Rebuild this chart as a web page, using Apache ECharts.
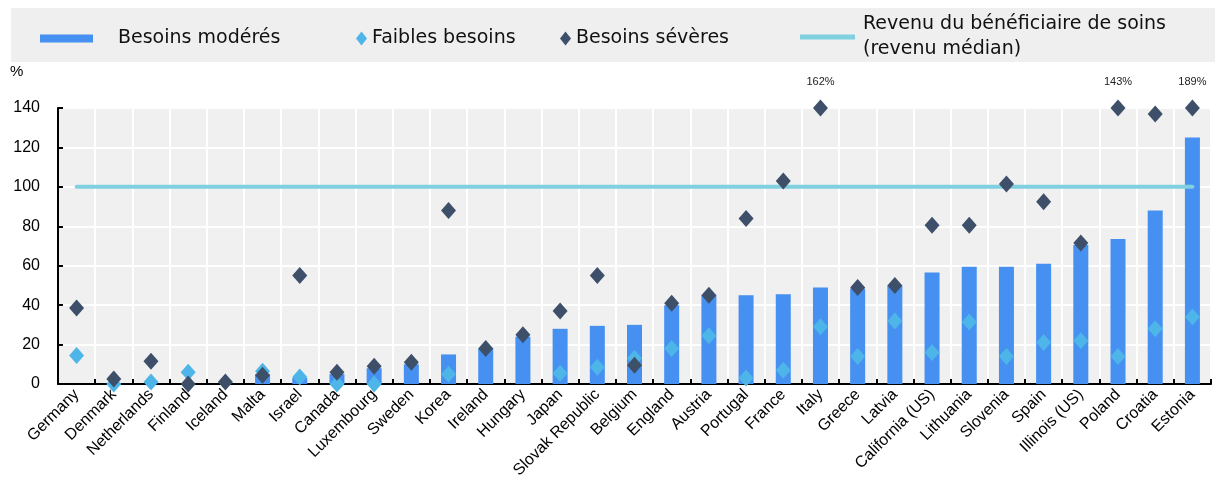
<!DOCTYPE html>
<html>
<head>
<meta charset="utf-8">
<script src="https://cdn.jsdelivr.net/npm/echarts@6/dist/echarts.min.js"></script>
<style>html,body{margin:0;padding:0;background:#fff}#c{width:1215px;height:486px}</style>
</head>
<body>
<div id="c"></div>
<script>
const categories = ['Germany','Denmark','Netherlands','Finland','Iceland','Malta','Israel','Canada','Luxembourg','Sweden','Korea','Ireland','Hungary','Japan','Slovak Republic','Belgium','England','Austria','Portugal','France','Italy','Greece','Latvia','California (US)','Lithuania','Slovenia','Spain','Illinois (US)','Poland','Croatia','Estonia'];
const moderate = [0,0,0,0,0,5,3,5,8,10,15,18,24,28,29.5,30,40,45,45,45.5,49,48.5,50,56.5,59.5,59.5,61,70.5,73.5,88,125];
const low = [14.5,0,1,6,null,6.5,3.5,0,0,null,5,null,null,5.5,8.5,13,18,24.5,3,7,29,14,32,16,31.5,14,21,22,14,28,34];
const severe = [38.5,2.5,11.5,0,1,4.5,55,6,9,11,88,18,25,37,55,9.5,41,45,84,103,140,49,50,80.5,80.5,101.5,92.5,71.5,140,137,140];
const overflowLabels = {20:'162%', 28:'143%', 30:'189%'};
const median = categories.map(() => 100);
const yTicks = {min:0, max:140, interval:20};

const chart = echarts.init(document.getElementById('c'));
const legendFont = {fontFamily:'DejaVu Sans', fontSize:19, color:'#111'};
chart.setOption({
  animation:false,
  graphic:[
    {type:'rect', left:11, top:8, shape:{width:1204, height:54}, style:{fill:'#efefef'}, z:-10},
    {type:'text', left:10, top:64, style:{text:'%', font:'15px "Liberation Sans"', fill:'#000'}}
  ],
  legend:[
    {data:['Besoins modérés'], left:35, top:24, icon:'rect', itemWidth:53, itemHeight:8,
     textStyle:Object.assign({padding:[0,0,0,20]}, legendFont)},
    {data:['Faibles besoins'], left:351, top:24, icon:'diamond', itemWidth:11, itemHeight:14,
     textStyle:legendFont},
    {data:['Besoins sévères'], left:555, top:24, icon:'diamond', itemWidth:11, itemHeight:14,
     textStyle:legendFont},
    {data:['Revenu du bénéficiaire de soins\n(revenu médian)'], left:795, top:7, icon:'rect', itemWidth:55, itemHeight:5,
     textStyle:Object.assign({lineHeight:25, padding:[0,0,0,3]}, legendFont)}
  ],
  grid:{left:58, right:4, top:108, bottom:102, show:true, backgroundColor:'#f0f0f0', borderWidth:0},
  xAxis:{
    type:'category', data:categories, boundaryGap:true,
    axisLine:{lineStyle:{color:'#000', width:2}},
    axisTick:{show:true, inside:true, length:5, interval:0, lineStyle:{color:'#000', width:2}},
    splitLine:{show:true, interval:0, lineStyle:{color:'#fff', width:2}},
    axisLabel:{interval:0, rotate:45, margin:8, fontFamily:'Liberation Sans', fontSize:16, color:'#000'}
  },
  yAxis:{
    type:'value', min:yTicks.min, max:yTicks.max, interval:yTicks.interval,
    axisLine:{show:true, lineStyle:{color:'#000', width:2}},
    axisTick:{show:true, inside:true, length:5, lineStyle:{color:'#000', width:2}},
    splitLine:{show:true, lineStyle:{color:'#fff', width:2}},
    axisLabel:{fontFamily:'Liberation Sans', fontSize:16, color:'#000', margin:18}
  },
  series:[
    {name:'Besoins modérés', type:'bar', data:moderate, barWidth:15, itemStyle:{color:'#4590f0'}, z:2},
    {name:'Revenu du bénéficiaire de soins\n(revenu médian)', type:'line', data:median, symbol:'none',
     lineStyle:{color:'#80d0e0', width:4, cap:'round'}, itemStyle:{color:'#80d0e0'}, z:3},
    {name:'Faibles besoins', type:'scatter', data:low, symbol:'diamond', symbolSize:[15,17], itemStyle:{color:'#4db5e8', opacity:1}, z:4},
    {name:'Besoins sévères', type:'scatter', data:severe, symbol:'diamond', symbolSize:[15,17], itemStyle:{color:'#3e4f6a', opacity:1}, z:5,
     label:{show:true, position:'top', distance:12, fontFamily:'Liberation Sans', fontSize:11, color:'#222',
       formatter:(p)=> overflowLabels[p.dataIndex] || ''}}
  ]
});
</script>
</body>
</html>
